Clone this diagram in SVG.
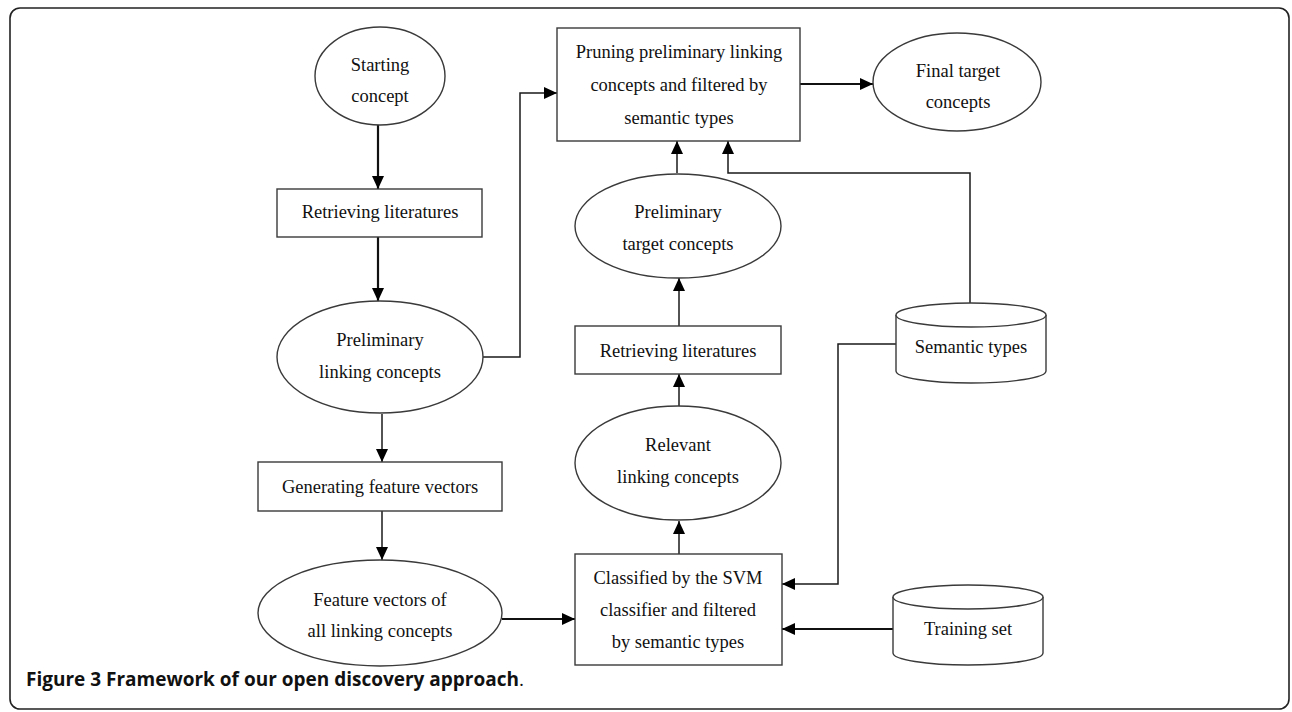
<svg xmlns="http://www.w3.org/2000/svg" width="1292" height="712" viewBox="0 0 1292 712">
<style>
.shape{fill:#fff;stroke:#3a3a3a;stroke-width:1.4}
.t{font-family:"Liberation Serif","Times New Roman",serif;font-size:18.5px;fill:#111;text-anchor:middle}
.c{fill:none;stroke:#1a1a1a;stroke-width:1.5}
.ck{fill:none;stroke:#111;stroke-width:2.2}
.cap{font-family:"Open Sans","Noto Sans",sans-serif;font-size:19px;font-weight:bold;fill:#111}
</style>
<defs>
<marker id="ah" markerUnits="userSpaceOnUse" markerWidth="14" markerHeight="12" refX="13" refY="6" orient="auto">
<path d="M0,0 L13,6 L0,12 Z" fill="#000"/>
</marker>
</defs>
<rect x="10" y="8" width="1279" height="701" rx="10" fill="#fff" stroke="#222" stroke-width="1.6"/>
<g id="connectors">
<path class="ck" d="M378,125 V189" marker-end="url(#ah)"/>
<path class="ck" d="M378,237 V301" marker-end="url(#ah)"/>
<path class="c" d="M483,357 H520 V93 H557" marker-end="url(#ah)"/>
<path class="c" d="M382,414 V462" marker-end="url(#ah)"/>
<path class="c" d="M382,511 V560" marker-end="url(#ah)"/>
<path class="ck" d="M502,619 H575" marker-end="url(#ah)"/>
<path class="c" d="M679,554 V521" marker-end="url(#ah)"/>
<path class="c" d="M679,406 V374" marker-end="url(#ah)"/>
<path class="c" d="M679,326 V278" marker-end="url(#ah)"/>
<path class="c" d="M677,173 V141" marker-end="url(#ah)"/>
<path class="c" d="M970,303 V173 H728 V141" marker-end="url(#ah)"/>
<path class="c" d="M896,344 H838 V584 H782" marker-end="url(#ah)"/>
<path class="ck" d="M893,629 H782" marker-end="url(#ah)"/>
<path class="ck" d="M800,84 H873" marker-end="url(#ah)"/>
</g>
<g id="starting-concept">
<ellipse class="shape" cx="380" cy="76" rx="65" ry="49"/>
<text class="t" x="380" y="71">Starting</text>
<text class="t" x="380" y="102">concept</text>
</g>
<g id="retrieving-literatures-1">
<rect class="shape" x="277" y="189" width="205" height="48"/>
<text class="t" x="380" y="218">Retrieving literatures</text>
</g>
<g id="preliminary-linking-concepts">
<ellipse class="shape" cx="380" cy="357" rx="103" ry="56"/>
<text class="t" x="380" y="346">Preliminary</text>
<text class="t" x="380" y="378">linking concepts</text>
</g>
<g id="generating-feature-vectors">
<rect class="shape" x="258" y="462" width="244" height="49"/>
<text class="t" x="380" y="493">Generating feature vectors</text>
</g>
<g id="feature-vectors">
<ellipse class="shape" cx="380" cy="613" rx="122" ry="53"/>
<text class="t" x="380" y="606">Feature vectors of</text>
<text class="t" x="380" y="637">all linking concepts</text>
</g>
<g id="pruning">
<rect class="shape" x="557" y="28" width="243" height="113"/>
<text class="t" x="679" y="58">Pruning preliminary linking</text>
<text class="t" x="679" y="91">concepts and filtered by</text>
<text class="t" x="679" y="124">semantic types</text>
</g>
<g id="final-target-concepts">
<ellipse class="shape" cx="957" cy="82" rx="84" ry="49"/>
<text class="t" x="958" y="77">Final target</text>
<text class="t" x="958" y="108">concepts</text>
</g>
<g id="preliminary-target-concepts">
<ellipse class="shape" cx="678" cy="226" rx="103" ry="52"/>
<text class="t" x="678" y="218">Preliminary</text>
<text class="t" x="678" y="250">target concepts</text>
</g>
<g id="retrieving-literatures-2">
<rect class="shape" x="575" y="326" width="206" height="48"/>
<text class="t" x="678" y="357">Retrieving literatures</text>
</g>
<g id="relevant-linking-concepts">
<ellipse class="shape" cx="678" cy="463" rx="103" ry="57"/>
<text class="t" x="678" y="451">Relevant</text>
<text class="t" x="678" y="483">linking concepts</text>
</g>
<g id="classified">
<rect class="shape" x="575" y="554" width="207" height="111"/>
<text class="t" x="678" y="584">Classified by the SVM</text>
<text class="t" x="678" y="616">classifier and filtered</text>
<text class="t" x="678" y="648">by semantic types</text>
</g>
<g id="semantic-types">
<path class="shape" d="M896,315 V371 A75,12 0 0 0 1046,371 V315 A75,12 0 0 0 896,315 Z"/>
<path class="shape" d="M896,315 A75,12 0 0 0 1046,315" fill="none"/>
<text class="t" x="971" y="353">Semantic types</text>
</g>
<g id="training-set">
<path class="shape" d="M893,597 V653 A75,12 0 0 0 1043,653 V597 A75,12 0 0 0 893,597 Z"/>
<path class="shape" d="M893,597 A75,12 0 0 0 1043,597" fill="none"/>
<text class="t" x="968" y="635">Training set</text>
</g>
<text class="cap" x="26" y="686">Figure 3 Framework of our open discovery approach<tspan font-weight="normal">.</tspan></text>
</svg>
